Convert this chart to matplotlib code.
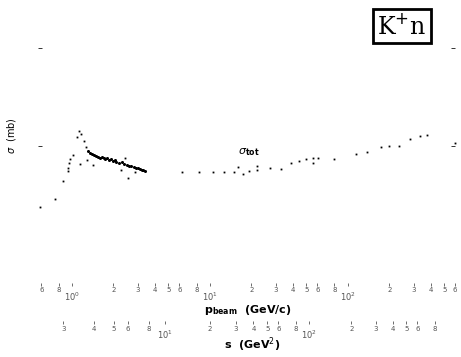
import numpy as np
import matplotlib.pyplot as plt
from matplotlib.ticker import FixedLocator, FixedFormatter

# K+n total cross section
# low energy rise and resonance region
p_low = [0.59, 0.75, 0.86, 0.94, 0.94, 0.95, 0.97, 1.02, 1.09, 1.12, 1.16, 1.22, 1.26,
         1.14, 1.28, 1.42, 2.27, 2.42, 2.55, 2.86]
sig_low = [13.7, 14.5, 16.4, 17.4, 17.7, 18.2, 18.6, 19.1, 20.9, 21.5, 21.2, 20.5, 19.9,
           18.1, 18.5, 18.0, 17.5, 18.7, 16.7, 17.3]

# dense band of measurements between 1.3 and 3.4 GeV/c
p_band = [1.31, 1.35, 1.40, 1.45, 1.50, 1.55, 1.60, 1.65, 1.70, 1.75, 1.80, 1.86, 1.92,
          2.0, 2.05, 2.1, 2.2, 2.3, 2.4, 2.5, 2.6, 2.7, 2.8, 2.9, 3.0, 3.1, 3.2, 3.3, 3.38]
sig_band = [19.5, 19.3, 19.2, 19.1, 19.0, 18.9, 18.8, 18.9, 18.7, 18.6, 18.7, 18.5, 18.6,
            18.4, 18.5, 18.3, 18.2, 18.3, 18.1, 18.0, 17.9, 17.9, 17.8, 17.7, 17.7, 17.6,
            17.5, 17.5, 17.4]

# high energy points
p_high = [6.27, 8.3, 10.5, 12.6, 14.9, 16.0, 17.3, 19.2, 21.9, 21.9, 27.2, 32.7, 38.6,
          44.2, 49.6, 55.7, 55.7, 60.6, 79.2, 114, 137, 173, 198, 234, 281, 332, 374, 596]
sig_high = [17.3, 17.3, 17.3, 17.3, 17.3, 17.8, 17.1, 17.4, 17.9, 17.5, 17.7, 17.6, 18.2,
            18.4, 18.6, 18.7, 18.2, 18.8, 18.6, 19.2, 19.4, 19.9, 20.0, 20.0, 20.7, 21.0,
            21.1, 20.3]

m_k, m_n = 0.4937, 0.9396


def p_to_s(p):
    p = np.asarray(p, dtype=float)
    return m_k**2 + m_n**2 + 2 * m_n * np.sqrt(p**2 + m_k**2)


def s_to_p(s):
    s = np.asarray(s, dtype=float)
    e = (s - m_k**2 - m_n**2) / (2 * m_n)
    return np.sqrt(np.clip(e**2 - m_k**2, 1e-9, None))


def digit(v):
    return str(int(round(v / 10 ** np.floor(np.log10(v)))))


fig = plt.figure(figsize=(4.61, 3.57), dpi=100)
W, H = 461, 357
ax = fig.add_axes([20 / W, 1 - 286 / H, 440 / W, 256 / H])

ax.plot(p_low, sig_low, ls='none', marker='s', ms=1.3, mew=0, color='black')
ax.plot(p_band, sig_band, ls='none', marker='o', ms=2.2, mew=0, color='black')
ax.plot(p_high, sig_high, ls='none', marker='s', ms=1.3, mew=0, color='black')

ax.set_xscale('log')
ax.set_xlim(0.42, 650)
ax.set_ylim(5.6, 31.9)

for sp in ax.spines.values():
    sp.set_visible(False)

# y ticks sit where the old frame was
ax.spines['left'].set_position(('data', 0.567))
ax.spines['right'].set_position(('data', 596))
ax.set_yticks([20, 30])
ax.yaxis.set_ticks_position('both')
ax.tick_params(axis='y', direction='in', length=3, width=0.7, labelleft=False,
               colors='#333333')

# p_beam axis
ax.xaxis.set_major_locator(FixedLocator([1, 10, 100]))
ax.xaxis.set_major_formatter(FixedFormatter(['$10^{0}$', '$10^{1}$', '$10^{2}$']))
p_minor = sorted([0.6, 0.8] + [s * d for d in (1, 10, 100) for s in (2, 3, 4, 5, 6, 8)])
ax.xaxis.set_minor_locator(FixedLocator(p_minor))
ax.xaxis.set_minor_formatter(FixedFormatter([digit(v) for v in p_minor]))
ax.tick_params(axis='x', which='both', direction='in', length=2, width=0.6,
               pad=1, colors='#555555')
ax.tick_params(axis='x', which='major', labelsize=6, pad=3)
ax.tick_params(axis='x', which='minor', labelsize=5)

# s axis underneath
sec = ax.secondary_xaxis(-0.15, functions=(p_to_s, s_to_p))
for sp in sec.spines.values():
    sp.set_visible(False)
sec.xaxis.set_major_locator(FixedLocator([10, 100]))
sec.xaxis.set_major_formatter(FixedFormatter(['$10^{1}$', '$10^{2}$']))
s_minor = [3, 4, 5, 6, 8, 20, 30, 40, 50, 60, 80, 200, 300, 400, 500, 600, 800]
sec.xaxis.set_minor_locator(FixedLocator(s_minor))
sec.xaxis.set_minor_formatter(FixedFormatter([digit(v) for v in s_minor]))
sec.tick_params(axis='x', which='both', direction='in', length=2, width=0.6,
                pad=1, colors='#555555')
sec.tick_params(axis='x', which='major', labelsize=6, pad=3)
sec.tick_params(axis='x', which='minor', labelsize=5)

fig.text(0.538, 0.132, r'$\mathbf{p}_{\mathbf{beam}}$  (GeV/c)', ha='center', va='center',
         fontsize=8, fontweight='bold')
fig.text(0.546, 0.034, r's  (GeV$^2$)', ha='center', va='center', fontsize=8,
         fontweight='bold')
fig.text(0.024, 0.62, r'$\sigma$  (mb)', rotation=90, ha='center', va='center', fontsize=7)
ax.text(0.495, 0.525, r'$\sigma_{\mathbf{tot}}$', transform=ax.transAxes, fontsize=8,
        ha='left', va='center')

fig.text(0.872, 0.927, r'K$^{+}$n', ha='center', va='center', fontsize=17,
         family='DejaVu Serif',
         bbox=dict(boxstyle='square,pad=0.2', fc='white', ec='black', lw=2))

fig.savefig('out.png', dpi=100)
